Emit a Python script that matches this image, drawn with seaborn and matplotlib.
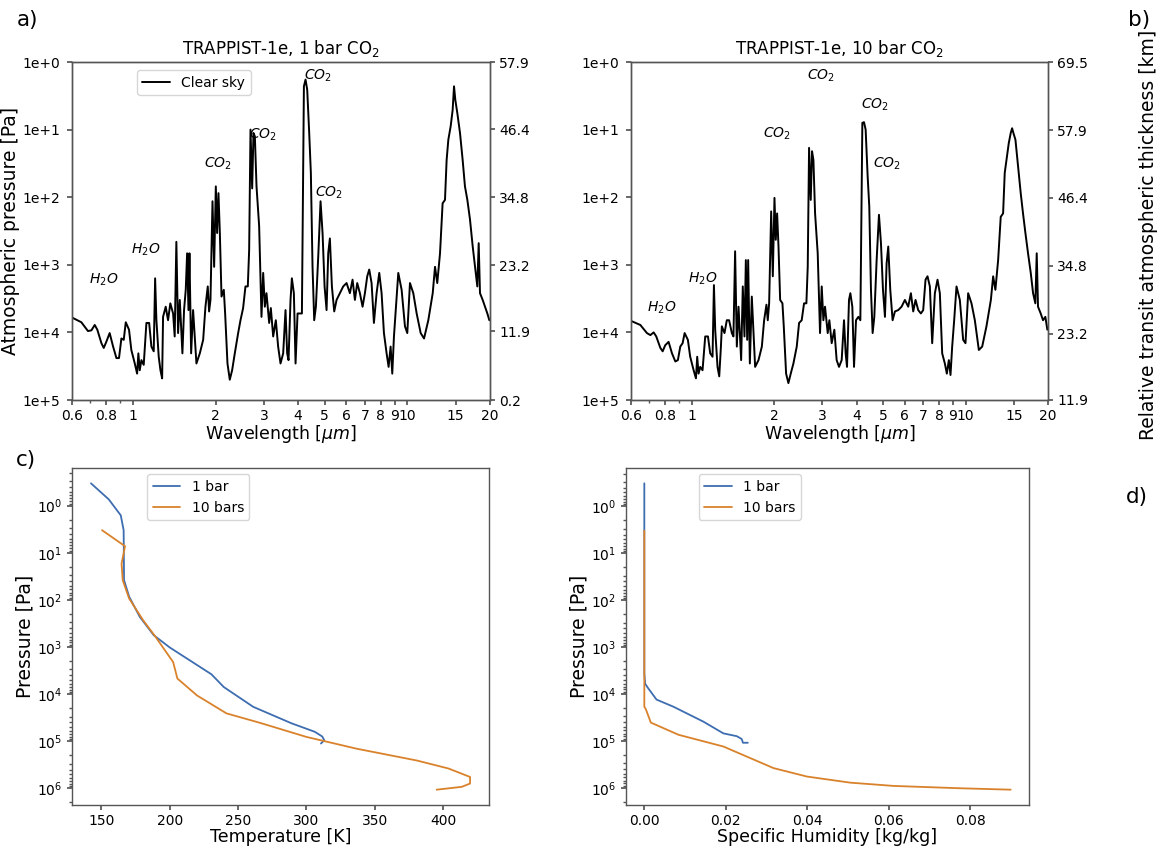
import numpy as np
import pandas as pd
import matplotlib
matplotlib.use("Agg")
import matplotlib.pyplot as plt
import seaborn as sns
from matplotlib.ticker import FixedLocator, FixedFormatter, NullLocator, NullFormatter, FormatStrFormatter

# ---------------- data ----------------
wavelength_um = [
    0.600, 0.649, 0.686, 0.706, 0.726, 0.742, 0.768, 0.783, 0.800, 0.823,
    0.847, 0.871, 0.890, 0.908, 0.926, 0.942, 0.968, 0.987, 1.016, 1.036,
    1.047, 1.059, 1.074, 1.095, 1.120, 1.146, 1.168, 1.191, 1.205, 1.218,
    1.242, 1.260, 1.278, 1.288, 1.317, 1.343, 1.369, 1.401, 1.420, 1.440,
    1.461, 1.482, 1.515, 1.536, 1.558, 1.576, 1.594, 1.607, 1.630, 1.657,
    1.704, 1.753, 1.803, 1.838, 1.874, 1.895, 1.917, 1.950, 1.977, 2.005,
    2.027, 2.050, 2.074, 2.103, 2.144, 2.168, 2.211, 2.254, 2.299, 2.351,
    2.418, 2.466, 2.521, 2.571, 2.622, 2.652, 2.682, 2.720, 2.750, 2.782,
    2.821, 2.884, 2.941, 2.983, 3.025, 3.067, 3.137, 3.181, 3.244, 3.317,
    3.382, 3.450, 3.528, 3.598, 3.648, 3.690, 3.752, 3.795, 3.859, 3.914,
    3.980, 4.059, 4.128, 4.198, 4.256, 4.316, 4.389, 4.450, 4.513, 4.577,
    4.642, 4.734, 4.827, 4.909, 4.993, 5.077, 5.148, 5.220, 5.309, 5.414,
    5.521, 5.677, 5.838, 6.004, 6.174, 6.314, 6.439, 6.566, 6.715, 6.867,
    7.003, 7.141, 7.262, 7.406, 7.553, 7.724, 7.899, 8.055, 8.215, 8.401,
    8.543, 8.688, 8.810, 8.935, 9.086, 9.266, 9.529, 9.799, 9.993, 10.22,
    10.51, 10.81, 11.18, 11.50, 11.92, 12.37, 12.61, 12.85, 13.15, 13.44,
    13.71, 13.90, 14.10, 14.38, 14.62, 14.79, 14.95, 15.21, 15.55, 15.90,
    16.21, 16.54, 16.91, 17.30, 17.64, 17.98, 18.19, 18.39, 18.81, 19.18,
    19.56, 19.89,
]

# log10 of the atmospheric pressure [Pa] probed at each wavelength
log10_p_1bar = [
    3.78, 3.85, 3.98, 3.97, 3.89, 3.96, 4.16, 4.23, 4.14, 4.01,
    4.21, 4.38, 4.38, 4.09, 4.11, 3.85, 3.96, 4.26, 4.46, 4.61,
    4.31, 4.56, 4.41, 4.48, 3.86, 3.86, 4.21, 4.28, 3.20, 3.82,
    4.36, 4.56, 4.68, 3.77, 3.62, 3.82, 3.57, 3.72, 4.06, 2.66,
    4.01, 3.52, 4.31, 3.67, 3.37, 2.83, 3.67, 2.83, 4.31, 3.67,
    4.46, 4.31, 4.11, 3.62, 3.32, 3.69, 3.52, 2.06, 3.03, 1.84,
    2.53, 1.94, 2.53, 3.47, 3.37, 3.72, 4.46, 4.70, 4.56, 4.31,
    4.01, 3.82, 3.64, 3.32, 3.32, 2.78, 1.00, 1.87, 1.05, 1.10,
    1.84, 2.43, 3.77, 3.12, 3.62, 3.42, 3.86, 3.64, 4.06, 3.82,
    4.21, 4.46, 4.31, 3.67, 4.31, 4.41, 3.52, 3.20, 3.42, 4.46,
    3.72, 3.72, 3.72, 0.36, 0.26, 0.41, 1.05, 1.64, 3.03, 3.82,
    3.62, 2.88, 2.06, 2.53, 3.32, 3.67, 2.83, 2.61, 3.32, 3.69,
    3.52, 3.42, 3.32, 3.27, 3.42, 3.22, 3.52, 3.27, 3.42, 3.62,
    3.42, 3.17, 3.07, 3.27, 3.86, 3.42, 3.12, 3.42, 4.01, 4.31,
    4.51, 4.21, 4.61, 4.06, 3.62, 3.12, 3.37, 3.91, 4.01, 3.27,
    3.42, 3.72, 4.01, 4.09, 3.82, 3.42, 3.03, 3.27, 2.83, 2.09,
    2.04, 1.45, 1.15, 0.95, 0.71, 0.36, 0.56, 0.76, 1.05, 1.45,
    1.84, 2.04, 2.33, 2.73, 3.03, 3.32, 2.68, 3.42, 3.52, 3.62,
    3.72, 3.82,
]

log10_p_10bar = [
    3.83, 3.89, 4.01, 4.04, 4.00, 4.06, 4.23, 4.28, 4.19, 4.14,
    4.31, 4.43, 4.41, 4.21, 4.16, 4.01, 4.11, 4.36, 4.56, 4.68,
    4.36, 4.61, 4.51, 4.56, 4.06, 4.06, 4.31, 4.36, 3.30, 3.96,
    4.51, 4.65, 4.21, 3.91, 4.01, 3.82, 3.82, 4.01, 4.06, 2.80,
    4.21, 3.62, 4.41, 3.32, 4.06, 2.93, 4.11, 2.93, 4.46, 3.47,
    4.51, 4.41, 4.21, 3.82, 3.59, 3.82, 3.57, 2.21, 3.17, 2.01,
    2.63, 2.24, 2.73, 3.52, 3.57, 3.91, 4.61, 4.75, 4.61, 4.46,
    4.21, 3.86, 3.82, 3.57, 3.57, 3.03, 1.27, 2.04, 1.32, 1.45,
    2.24, 2.83, 4.01, 3.32, 3.82, 3.62, 4.01, 3.82, 4.16, 3.96,
    4.41, 4.51, 4.41, 3.82, 4.31, 4.51, 3.52, 3.42, 3.62, 4.51,
    3.82, 3.77, 3.82, 0.90, 0.89, 1.00, 1.69, 2.14, 3.37, 4.01,
    3.77, 2.93, 2.26, 2.68, 3.37, 3.77, 2.98, 2.73, 3.37, 3.82,
    3.69, 3.67, 3.62, 3.52, 3.62, 3.42, 3.69, 3.52, 3.67, 3.72,
    3.67, 3.22, 3.17, 3.32, 4.16, 3.42, 3.22, 3.42, 4.31, 4.46,
    4.61, 4.41, 4.63, 4.21, 3.82, 3.32, 3.52, 4.11, 4.16, 3.42,
    3.57, 3.82, 4.26, 4.21, 3.91, 3.52, 3.17, 3.37, 2.93, 2.29,
    2.24, 1.64, 1.45, 1.20, 1.05, 0.98, 1.05, 1.15, 1.54, 1.94,
    2.24, 2.53, 2.83, 3.12, 3.42, 3.57, 2.83, 3.62, 3.72, 3.82,
    3.77, 3.96,
]

wl_ticks = [0.6, 0.8, 1, 2, 3, 4, 5, 6, 7, 8, 9, 10, 15, 20]
wl_tick_labels = ["0.6", "0.8", "1", "2", "3", "4", "5", "6", "7", "8", "9", "10", "15", "20"]
p_ticks = [1e0, 1e1, 1e2, 1e3, 1e4, 1e5]
p_tick_labels = ["1e+0", "1e+1", "1e+2", "1e+3", "1e+4", "1e+5"]
profile_p_ticks = [1e0, 1e1, 1e2, 1e3, 1e4, 1e5, 1e6]
km_ticks_1bar = [0.2, 11.9, 23.2, 34.8, 46.4, 57.9]
km_ticks_10bar = [11.9, 23.2, 34.8, 46.4, 57.9, 69.5]

# band labels: (text, wavelength, log10 pressure)
bands_1bar = [("$H_2O$", 0.78, 3.22), ("$H_2O$", 1.11, 2.78), ("$CO_2$", 2.04, 1.50),
              ("$CO_2$", 2.98, 1.08), ("$CO_2$", 4.73, 0.21), ("$CO_2$", 5.18, 1.93)]
bands_10bar = [("$H_2O$", 0.776, 3.64), ("$H_2O$", 1.10, 3.21), ("$CO_2$", 2.04, 1.06),
               ("$CO_2$", 2.96, 0.21), ("$CO_2$", 4.67, 0.63), ("$CO_2$", 5.15, 1.50)]

# temperature profiles
temp_1bar = [142.4, 155.4, 164.2, 166.3, 166.6, 170.3, 178.1, 188.3, 200.0, 230.5,
             239.5, 261.0, 289.0, 306.0, 311.5, 313.0, 310.6]
temp_1bar_log10p = [-0.475, -0.135, 0.205, 0.52, 1.58, 1.93, 2.36, 2.75, 3.01, 3.58,
                    3.85, 4.27, 4.62, 4.80, 4.90, 4.98, 5.05]
temp_10bar = [150.5, 167.3, 166.3, 164.8, 165.6, 170.3, 180.5, 189.5, 202.5, 205.6,
              220.0, 241.5, 265.9, 300.0, 336.7, 380.6, 403.8, 419.6, 419.6, 413.5, 395.2]
temp_10bar_log10p = [0.52, 0.86, 1.01, 1.23, 1.58, 1.97, 2.43, 2.78, 3.32, 3.67,
                     4.03, 4.41, 4.61, 4.91, 5.16, 5.41, 5.58, 5.76, 5.90, 5.97, 6.03]

# specific humidity profiles
q_1bar = [0.0, 0.0, 0.0002, 0.0008, 0.003, 0.0071, 0.0145, 0.0194, 0.0227, 0.0239, 0.0242, 0.0254]
q_1bar_log10p = [-0.49, 3.56, 3.78, 3.86, 4.12, 4.27, 4.59, 4.84, 4.90, 4.96, 5.04, 5.04]
q_10bar = [0.0, 0.0, 0.0004, 0.0016, 0.0084, 0.0194, 0.0317, 0.0399, 0.0505, 0.0612, 0.0776, 0.0899]
q_10bar_log10p = [0.52, 4.27, 4.33, 4.61, 4.87, 5.12, 5.58, 5.76, 5.89, 5.96, 6.01, 6.04]

case_labels = ["1 bar", "10 bars"]
case_colors = ["#3d6db0", "#d9822b"]

# ---------------- style ----------------
sns.set_theme(style="ticks", rc={
    "axes.edgecolor": "#555555",
    "axes.linewidth": 1.0,
    "xtick.color": "#555555",
    "ytick.color": "#555555",
    "xtick.labelcolor": "black",
    "ytick.labelcolor": "black",
    "xtick.major.size": 3.5,
    "ytick.major.size": 3.5,
    "xtick.minor.size": 2.0,
    "ytick.minor.size": 2.0,
    "xtick.major.pad": 3.0,
    "ytick.major.pad": 5.0,
    "text.color": "black",
    "axes.labelcolor": "black",
    "xtick.labelsize": 10,
    "ytick.labelsize": 10,
    "legend.fontsize": 10,
})
plt.rcParams["font.family"] = ["DejaVu Sans"]

W, H = 1159, 850
fig = plt.figure(figsize=(W / 100, H / 100), dpi=100)


def frac(x0, y0, x1, y1):
    return [x0 / W, 1 - y1 / H, (x1 - x0) / W, (y1 - y0) / H]


ax_a = fig.add_axes(frac(72, 62, 490, 400))
ax_b = fig.add_axes(frac(631, 62, 1048, 400))
ax_c = fig.add_axes(frac(72, 468, 489, 805))
ax_d = fig.add_axes(frac(626, 468, 1029, 805))


def spectrum(ax, logp, title, km_ticks, bands, legend):
    df = pd.DataFrame({"wl": wavelength_um, "p": 10 ** np.array(logp)})
    if legend:
        sns.lineplot(data=df, x="wl", y="p", ax=ax, color="black", lw=1.4,
                     sort=False, estimator=None, label="Clear sky")
    else:
        sns.lineplot(data=df, x="wl", y="p", ax=ax, color="black", lw=1.4,
                     sort=False, estimator=None, legend=False)
    ax.set_xscale("log")
    ax.set_yscale("log")
    ax.set_xlim(0.6, 20)
    ax.set_ylim(1e5, 1e0)
    ax.xaxis.set_major_locator(FixedLocator(wl_ticks))
    ax.xaxis.set_major_formatter(FixedFormatter(wl_tick_labels))
    ax.xaxis.set_minor_locator(FixedLocator([0.7, 0.9]))
    ax.xaxis.set_minor_formatter(NullFormatter())
    ax.yaxis.set_major_locator(FixedLocator(p_ticks))
    ax.yaxis.set_major_formatter(FixedFormatter(p_tick_labels))
    ax.yaxis.set_minor_locator(NullLocator())
    ax.set_xlabel(r"Wavelength [$\mu m$]", fontsize=12.5, labelpad=0)
    ax.set_ylabel("")
    ax.set_title(title, fontsize=12, pad=6)
    for txt, x, lp in bands:
        ax.text(x, 10 ** lp, txt, ha="center", va="center", fontsize=10)
    tw = ax.twinx()
    tw.set_ylim(km_ticks[0], km_ticks[-1])
    tw.set_yticks(km_ticks)
    tw.set_yticklabels([f"{v:.1f}" for v in km_ticks])
    tw.tick_params(axis="y", pad=3)
    for s in ("left", "right", "top", "bottom"):
        tw.spines[s].set_visible(True)
        ax.spines[s].set_visible(True)
    if legend:
        ax.legend(loc="upper left", bbox_to_anchor=(0.155, 0.976), borderaxespad=0,
                  frameon=True, fancybox=True, framealpha=0.8, edgecolor="#cccccc")
    return tw


spectrum(ax_a, log10_p_1bar, "TRAPPIST-1e, 1 bar CO$_2$", km_ticks_1bar, bands_1bar, True)
spectrum(ax_b, log10_p_10bar, "TRAPPIST-1e, 10 bar CO$_2$", km_ticks_10bar, bands_10bar, False)
ax_a.set_ylabel("Atmospheric pressure [Pa]", fontsize=13.5, labelpad=2)


def profile(ax, xs, lps, xlabel):
    for x, lp, lab, col in zip(xs, lps, case_labels, case_colors):
        df = pd.DataFrame({"x": x, "p": 10 ** np.array(lp)})
        sns.lineplot(data=df, x="x", y="p", ax=ax, color=col, lw=1.3,
                     sort=False, estimator=None, label=lab)
    ax.set_yscale("log")
    ax.set_yticks(profile_p_ticks)
    ax.invert_yaxis()
    ax.set_xlabel(xlabel, fontsize=12.5, labelpad=0)
    ax.set_ylabel("Pressure [Pa]", fontsize=13.5, labelpad=2)
    ax.tick_params(axis="y", pad=3.5)
    for s in ("left", "right", "top", "bottom"):
        ax.spines[s].set_visible(True)
    ax.legend(loc="upper left", bbox_to_anchor=(0.18, 0.982), borderaxespad=0,
              frameon=True, fancybox=True, framealpha=0.8, edgecolor="#cccccc")


profile(ax_c, [temp_1bar, temp_10bar], [temp_1bar_log10p, temp_10bar_log10p], "Temperature [K]")
ax_c.set_xticks([150, 200, 250, 300, 350, 400])
profile(ax_d, [q_1bar, q_10bar], [q_1bar_log10p, q_10bar_log10p], "Specific Humidity [kg/kg]")
ax_d.set_xticks([0.00, 0.02, 0.04, 0.06, 0.08])
ax_d.xaxis.set_major_formatter(FormatStrFormatter("%.2f"))

fig.text(1149 / W, 1 - 235 / H, "Relative transit atmospheric thickness [km]",
         rotation=90, ha="center", va="center", fontsize=13.5)

fig.text(27 / W, 1 - 20 / H, "a)", ha="center", va="center", fontsize=15.5)
fig.text(1139 / W, 1 - 20 / H, "b)", ha="center", va="center", fontsize=15.5)
fig.text(26 / W, 1 - 460 / H, "c)", ha="center", va="center", fontsize=15.5)
fig.text(1137 / W, 1 - 497 / H, "d)", ha="center", va="center", fontsize=15.5)

fig.savefig("out.png", dpi=100)
